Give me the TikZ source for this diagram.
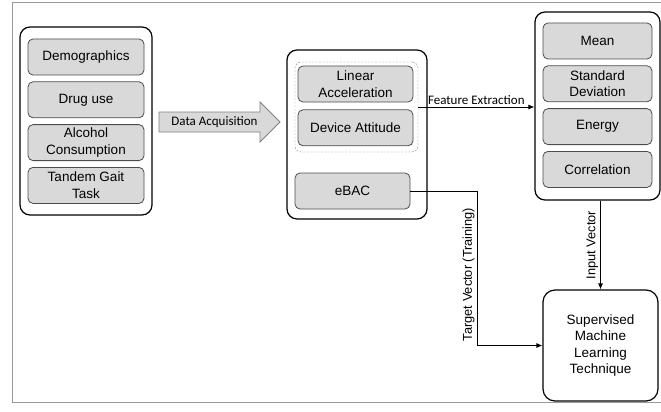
\documentclass[tikz,border=0pt]{standalone}
\usepackage{fontspec}
\setmainfont{Liberation Sans}
\newfontfamily\labelfont{Carlito}
\usetikzlibrary{arrows.meta, positioning}

\begin{document}
\begin{tikzpicture}[x=1pt, y=-1pt, node distance=6pt,
  txt/.style={font=\fontsize{13.5}{16.5}\selectfont, align=center},
  group/.style={draw, line width=1.2pt, rounded corners=10pt, minimum width=#1},
  item/.style={txt, draw=black!70, fill=black!15, line width=0.8pt, rounded corners=5pt, inner sep=0pt, minimum height=36pt, minimum width=#1},
  lbl/.style={font=\labelfont\fontsize{13}{15}\selectfont, inner sep=2pt},
  vlbl/.style={font=\fontsize{12.8}{15}\selectfont, rotate=90, anchor=south, inner sep=2pt},
  line/.style={-{Latex[length=6pt,width=5pt]}, line width=0.8pt}]
\useasboundingbox (0,0) rectangle (661,412);
\draw[black!40, line width=1pt] (661,3) -- (12,3) -- (12,402) -- (661,402);

\node[group=132pt, minimum height=188pt] (INPUT) at (86,121) {};
\node[item=116pt] (DEMO) at (86,57) {Demographics};
\node[item=116pt, below=of DEMO] (DRUG) {Drug use};
\node[item=116pt, below=of DRUG] (ALC) {Alcohol\\Consumption};
\node[item=116pt, below=of ALC] (GAIT) {Tandem Gait\\Task};

\draw[draw=black!50, fill=black!15, line width=0.8pt] (159,112) -- (260,112) -- (260,102) -- (280,122) -- (260,142) -- (260,132) -- (159,132) -- cycle;
\node[lbl] (ACQ) at (214.5,122) {Data Acquisition};

\node[group=140pt, minimum height=169pt] (SENSOR) at (357,134.5) {};
\node[draw=black!50, dash pattern=on 2pt off 1.5pt, rounded corners=6pt, minimum width=123pt, minimum height=90pt] (MOTION) at (356.5,107) {};
\node[item=115pt] (LIN) at (355.5,84) {Linear\\Acceleration};
\node[item=115pt, below=7pt of LIN] (DEV) {Device Attitude};
\node[item=115pt] (EBAC) at (352.5,191) {eBAC};

\node[group=125pt, minimum height=188pt] (FEAT) at (597.5,106) {};
\node[item=109pt] (MEAN) at (597.5,41) {Mean};
\node[item=109pt, below=of MEAN] (STD) {Standard\\Deviation};
\node[item=109pt, below=of STD] (ENERGY) {Energy};
\node[item=109pt, below=of ENERGY] (CORR) {Correlation};

\node[txt, draw, line width=1.2pt, rounded corners=12pt, minimum width=115pt, minimum height=111pt] (SML) at (600.5,345.5) {Supervised\\Machine\\Learning\\Technique};
\coordinate (TV) at (477,191);

\draw[line] (MOTION.east) -- (MOTION.east -| FEAT.west) node[midway, above, lbl] {Feature Extraction};
\draw[line] (FEAT.south -| SML.north) -- (SML.north) node[midway, vlbl] {Input Vector};
\draw[line] (EBAC.east) -- (TV) |- (SML.west) node[pos=0.27, vlbl] {Target Vector (Training)};
\end{tikzpicture}
\end{document}
